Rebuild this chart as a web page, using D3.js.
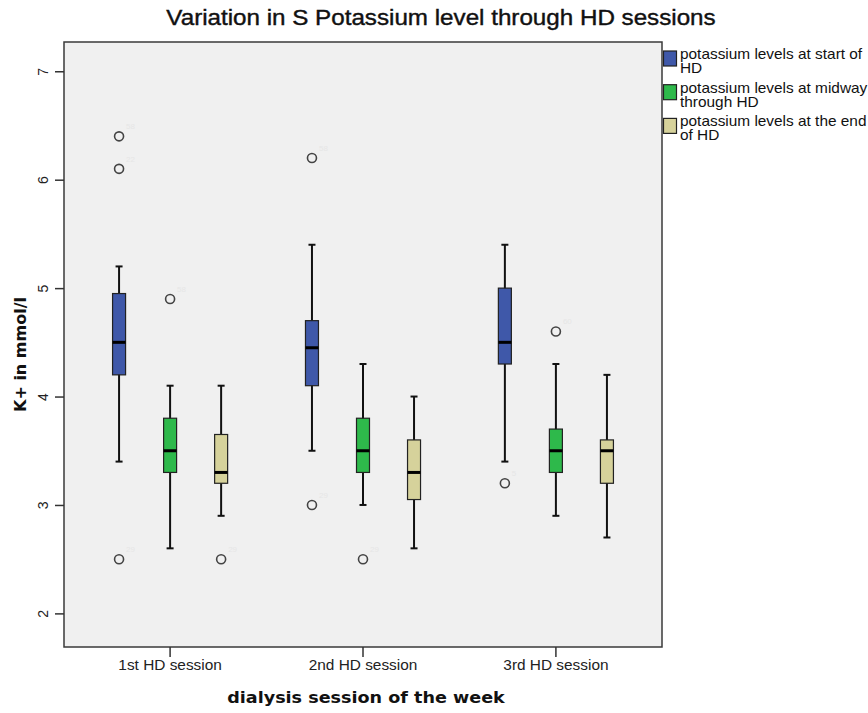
<!DOCTYPE html>
<html>
<head>
<meta charset="utf-8">
<script src="https://cdn.jsdelivr.net/npm/d3@7"></script>
<style>
  body { margin: 0; background: #fff; }
  text { font-family: "Liberation Sans", Arial, sans-serif; }
</style>
</head>
<body>
<svg id="chart"></svg>
<script>
// data
const sessions = ["1st HD session", "2nd HD session", "3rd HD session"];
const seriesNames = ["start", "midway", "end"];
const legendLines = [
    ["potassium levels at start of", "HD"],
    ["potassium levels at midway", "through HD"],
    ["potassium levels at the end", "of HD"]
];
// [whisker low, q1, median, q3, whisker high] per session
const startStats = [[3.4, 4.2, 4.5, 4.95, 5.2], [3.5, 4.1, 4.45, 4.7, 5.4], [3.4, 4.3, 4.5, 5.0, 5.4]];
const midStats = [[2.6, 3.3, 3.5, 3.8, 4.1], [3.0, 3.3, 3.5, 3.8, 4.3], [2.9, 3.3, 3.5, 3.7, 4.3]];
const endStats = [[2.9, 3.2, 3.3, 3.65, 4.1], [2.6, 3.05, 3.3, 3.6, 4.0], [2.7, 3.2, 3.5, 3.6, 4.2]];
const startOutliers = [[6.4, 6.1, 2.5], [6.2, 3.0], [3.2]];
const midOutliers = [[4.9], [2.5], [4.6]];
const endOutliers = [[2.5], [], []];
const startOutlierIds = [["58", "22", "29"], ["58", "29"], ["5"]];
const midOutlierIds = [["58"], ["29"], ["60"]];
const endOutlierIds = [["29"], [], []];
const yTicks = [2, 3, 4, 5, 6, 7];

const colors = ["#3f58a9", "#2eb94b", "#d6d29b"];
const w = 868, h = 713;
const pLeft = 64, pRight = 662, pTop = 42, pBottom = 647;
const sx = 1.1; // the original is slightly stretched horizontally

let svg = d3.select('#chart')
    .attr('width', w)
    .attr('height', h);

let xScale = d3.scaleBand()
    .domain(sessions)
    .range([pLeft, pRight])
    .paddingOuter(0.05)
    .paddingInner(0);

let subScale = d3.scalePoint()
    .domain(seriesNames)
    .range([0, xScale.bandwidth()])
    .padding(0.89);

let yScale = d3.scaleLinear()
    .domain([1.69, 7.27])
    .range([pBottom, pTop]);

//plot background
svg.append('rect')
    .attr('x', pLeft)
    .attr('y', pTop)
    .attr('width', pRight - pLeft)
    .attr('height', pBottom - pTop)
    .attr('fill', '#f0f0f0')
    .attr('stroke', '#3a3a3a')
    .attr('stroke-width', 1.5);

//title
svg.append('text')
    .attr('transform', 'translate(441,25) scale(' + sx + ',1)')
    .attr('text-anchor', 'middle')
    .style('font-size', '22px')
    .style('fill', '#111')
    .style('stroke', '#111')
    .style('stroke-width', 0.4)
    .text('Variation in S Potassium level through HD sessions');

//x-axis
let xAxis = svg.append('g')
    .attr('transform', 'translate(0,' + pBottom + ')')
    .call(d3.axisBottom(xScale).tickSize(10).tickSizeOuter(0));
xAxis.select('.domain').remove();
xAxis.selectAll('line').attr('stroke', '#333').attr('stroke-width', 1.5);
xAxis.selectAll('text')
    .attr('y', 23)
    .attr('dy', 0)
    .attr('transform', 'scale(' + sx + ',1)')
    .style('font-family', '"Liberation Sans", Arial, sans-serif')
    .style('font-size', '14px')
    .style('fill', '#222');

//y-axis
let yAxis = svg.append('g')
    .attr('transform', 'translate(' + pLeft + ',0)')
    .call(d3.axisLeft(yScale).tickValues(yTicks).tickFormat(d3.format('d')).tickSize(9).tickSizeOuter(0));
yAxis.select('.domain').remove();
yAxis.selectAll('line').attr('stroke', '#333').attr('stroke-width', 1.5);
yAxis.selectAll('text')
    .attr('x', 0)
    .attr('y', 0)
    .attr('dy', 0)
    .attr('transform', 'translate(-16,0) rotate(-90)')
    .attr('text-anchor', 'middle')
    .style('font-family', '"Liberation Sans", Arial, sans-serif')
    .style('font-size', '14px')
    .style('fill', '#222');

//axis titles
svg.append('text')
    .attr('transform', 'translate(' + ((pLeft + pRight) / 2 + 3) + ',703) scale(' + sx + ',1)')
    .attr('text-anchor', 'middle')
    .style('font-family', '"DejaVu Sans", Verdana, sans-serif')
    .style('font-weight', 'bold')
    .style('font-size', '16px')
    .style('fill', '#111')
    .text('dialysis session of the week');

svg.append('text')
    .attr('transform', 'translate(26,' + ((pTop + pBottom) / 2 + 10) + ') rotate(-90)')
    .attr('text-anchor', 'middle')
    .style('font-family', '"DejaVu Sans", Verdana, sans-serif')
    .style('font-weight', 'bold')
    .style('font-size', '16px')
    .style('fill', '#111')
    .text('K+ in mmol/l');

//boxes
let allStats = [startStats, midStats, endStats];
let allOutliers = [startOutliers, midOutliers, endOutliers];
let allIds = [startOutlierIds, midOutlierIds, endOutlierIds];
let boxW = 13, capW = 7;

let boxes = [];
let points = [];
seriesNames.forEach((s, si) => {
    sessions.forEach((c, ci) => {
        let st = allStats[si][ci];
        boxes.push({ series: s, si: si, session: c, lo: st[0], q1: st[1], med: st[2], q3: st[3], hi: st[4] });
        allOutliers[si][ci].forEach((v, k) => {
            points.push({ series: s, session: c, value: v, id: allIds[si][ci][k] });
        });
    });
});

let cx = d => xScale(d.session) + subScale(d.series);

let g = svg.append('g');

g.selectAll('.whisker')
    .data(boxes)
    .enter()
    .append('line')
    .attr('x1', cx).attr('x2', cx)
    .attr('y1', d => yScale(d.lo))
    .attr('y2', d => yScale(d.hi))
    .attr('stroke', '#111')
    .attr('stroke-width', 2);

['lo', 'hi'].forEach(k => {
    g.selectAll('.cap-' + k)
        .data(boxes)
        .enter()
        .append('line')
        .attr('x1', d => cx(d) - capW / 2)
        .attr('x2', d => cx(d) + capW / 2)
        .attr('y1', d => yScale(d[k]))
        .attr('y2', d => yScale(d[k]))
        .attr('stroke', '#111')
        .attr('stroke-width', 2);
});

g.selectAll('.box')
    .data(boxes)
    .enter()
    .append('rect')
    .attr('x', d => cx(d) - boxW / 2)
    .attr('y', d => yScale(d.q3))
    .attr('width', boxW)
    .attr('height', d => yScale(d.q1) - yScale(d.q3))
    .attr('fill', d => colors[d.si])
    .attr('stroke', '#222')
    .attr('stroke-width', 1.2);

g.selectAll('.median')
    .data(boxes)
    .enter()
    .append('line')
    .attr('x1', d => cx(d) - boxW / 2)
    .attr('x2', d => cx(d) + boxW / 2)
    .attr('y1', d => yScale(d.med))
    .attr('y2', d => yScale(d.med))
    .attr('stroke', '#000')
    .attr('stroke-width', 3);

g.selectAll('.outlier')
    .data(points)
    .enter()
    .append('circle')
    .attr('cx', cx)
    .attr('cy', d => yScale(d.value))
    .attr('r', 4.5)
    .attr('fill', 'none')
    .attr('stroke', '#444')
    .attr('stroke-width', 1.6);

g.selectAll('.outlier-id')
    .data(points)
    .enter()
    .append('text')
    .attr('x', d => cx(d) + 7)
    .attr('y', d => yScale(d.value) - 7)
    .style('font-size', '8px')
    .style('fill', '#e6e6e6')
    .text(d => d.id);

//legend
let legend = svg.append('g')
    .attr('transform', 'translate(663,51)');

let items = legend.selectAll('g')
    .data(legendLines)
    .enter()
    .append('g')
    .attr('transform', (d, i) => 'translate(0,' + (i * 33.7) + ')');

items.append('rect')
    .attr('x', 0.5)
    .attr('y', 0)
    .attr('width', 13)
    .attr('height', 15)
    .attr('fill', (d, i) => colors[i])
    .attr('stroke', '#222')
    .attr('stroke-width', 1.2);

items.each(function (d) {
    let t = d3.select(this);
    d.forEach((line, k) => {
        t.append('text')
            .attr('transform', 'translate(17,' + (8 + k * 14) + ') scale(' + sx + ',1)')
            .style('font-size', '14px')
            .style('fill', '#111')
            .text(line);
    });
});
</script>
</body>
</html>
